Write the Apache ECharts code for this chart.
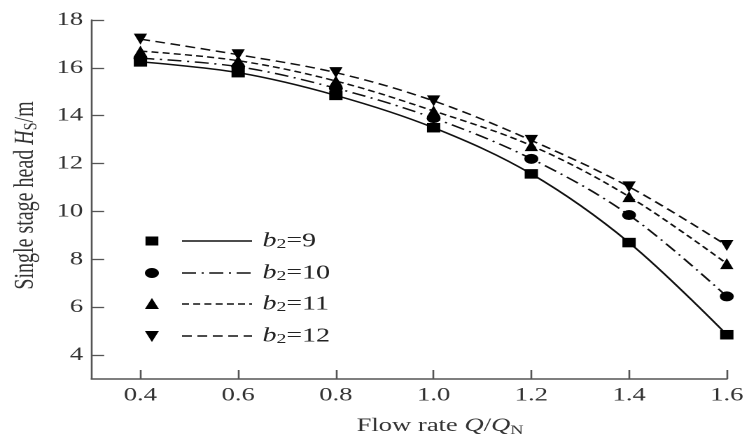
<!DOCTYPE html>
<html><head><meta charset="utf-8">
<script src="https://cdn.jsdelivr.net/npm/echarts@6/dist/echarts.min.js"></script>
<style>
html,body{margin:0;padding:0;background:#fff;overflow:hidden}
#wrap{width:748px;height:442px;overflow:hidden}
/* the reference figure is stretched horizontally by about 1.4x */
#c{width:534px;height:442px;transform:scaleX(1.4);transform-origin:0 0}
</style>
</head><body><div id="wrap"><div id="c"></div></div>
<script>
const flowRates = [0.4, 0.6, 0.8, 1.0, 1.2, 1.4, 1.6];
const head_b9  = [16.25, 15.8, 14.85, 13.5, 11.57, 8.7, 4.85];
const head_b10 = [16.4, 16.05, 15.15, 13.9, 12.2, 9.85, 6.45];
const head_b11 = [16.7, 16.3, 15.45, 14.2, 12.75, 10.62, 7.82];
const head_b12 = [17.2, 16.55, 15.8, 14.62, 12.97, 11.03, 8.58];
const seriesNames = ['b2=9', 'b2=10', 'b2=11', 'b2=12'];
const xTicks = [0.4, 0.6, 0.8, 1.0, 1.2, 1.4, 1.6];
const yTicks = [4, 6, 8, 10, 12, 14, 16, 18];

const serif = '"Liberation Serif", "DejaVu Serif", serif';
const pair = arr => flowRates.map((x, i) => [x, arr[i]]);
const styles = [
  {sym: 'rect', size: [9.5, 9.5], rot: 0, dash: 'solid', leg: null},
  {sym: 'circle', size: [10, 10], rot: 0, dash: [10, 4, 1.5, 4], leg: [10, 4, 1.5, 4]},
  {sym: 'triangle', size: [9.5, 11], rot: 0, dash: [5, 3], leg: [5, 3]},
  {sym: 'triangle', size: [9.5, 11], rot: 180, dash: [7, 4], leg: [7, 4]}
];
const data = [head_b9, head_b10, head_b11, head_b12];

const series = data.map((d, i) => ({
  name: seriesNames[i], type: 'line', data: pair(d), smooth: 0.35,
  symbol: styles[i].sym, symbolSize: styles[i].size, symbolRotate: styles[i].rot,
  showAllSymbol: true,
  itemStyle: {color: '#000'},
  lineStyle: {color: '#111', width: 1.5, type: styles[i].dash},
  z: 3
}));

// custom legend graphics (coordinates in the un-stretched frame)
const legendRows = [241, 273, 304, 336];
const graphic = [];
seriesNames.forEach((n, i) => {
  const y = legendRows[i];
  const mx = 108.5;
  if (i === 0) graphic.push({type: 'rect', shape: {x: mx - 4.6, y: y - 4.5, width: 9.2, height: 9}, style: {fill: '#000'}});
  if (i === 1) graphic.push({type: 'ellipse', shape: {cx: mx, cy: y, rx: 5, ry: 5}, style: {fill: '#000'}});
  if (i === 2) graphic.push({type: 'polygon', shape: {points: [[mx - 5, y + 5], [mx + 5, y + 5], [mx, y - 6]]}, style: {fill: '#000'}});
  if (i === 3) graphic.push({type: 'polygon', shape: {points: [[mx - 5, y - 5], [mx + 5, y - 5], [mx, y + 6]]}, style: {fill: '#000'}});
  graphic.push({type: 'line', shape: {x1: 130, y1: y, x2: 180, y2: y},
    style: {stroke: '#111', lineWidth: 1.5, lineDash: styles[i].leg}});
  const num = n.split('=')[1];
  graphic.push({type: 'text', x: 187.5, y: y, style: {
    text: '{i|b}{s|2}{n|=' + num + '}', verticalAlign: 'middle',
    rich: {
      i: {fontFamily: serif, fontStyle: 'italic', fontSize: 20, fill: '#222'},
      s: {fontFamily: serif, fontSize: 14, fill: '#222', padding: [7, 0, 0, 0]},
      n: {fontFamily: serif, fontSize: 20, fill: '#222'}
    }}});
});

const chart = echarts.init(document.getElementById('c'), null, {renderer: 'canvas', devicePixelRatio: 2});
chart.setOption({
  animation: false,
  backgroundColor: '#fff',
  grid: {left: 63.6, right: 14.3, top: 20, bottom: 56},
  xAxis: {
    type: 'value', min: 0.3, max: 1.6,
    axisLine: {show: true, lineStyle: {color: '#555', width: 1.5}},
    axisTick: {show: true, inside: true, length: 9, customValues: xTicks, lineStyle: {color: '#555', width: 1.3}},
    axisLabel: {customValues: xTicks, formatter: v => v.toFixed(1), fontFamily: serif, fontSize: 19, color: '#333', margin: 7},
    splitLine: {show: false},
    name: '{t|Flow rate }{i|Q}{t|/}{i|Q}{s|N}', nameLocation: 'middle', nameGap: 36,
    nameTextStyle: {padding: [0, 0, 0, 44], rich: {
      t: {fontFamily: serif, fontSize: 19, color: '#333'},
      i: {fontFamily: serif, fontSize: 19, fontStyle: 'italic', color: '#333'},
      s: {fontFamily: serif, fontSize: 13, color: '#333', padding: [9, 0, 0, 0]}
    }}
  },
  yAxis: {
    type: 'value', min: 3, max: 18,
    axisLine: {show: true, lineStyle: {color: '#555', width: 1.3}},
    axisTick: {show: true, inside: true, length: 9, customValues: yTicks, lineStyle: {color: '#555', width: 1.3}},
    axisLabel: {customValues: yTicks, fontFamily: serif, fontSize: 19, color: '#333', margin: 6},
    splitLine: {show: false},
    name: '{t|Single stage head }{i|H}{s|S}{t|/m}', nameLocation: 'middle', nameGap: 33, nameRotate: 90,
    nameTextStyle: {padding: [0, 0, 0, 8], rich: {
      t: {fontFamily: serif, fontSize: 20, color: '#333'},
      i: {fontFamily: serif, fontSize: 20, fontStyle: 'italic', color: '#333'},
      s: {fontFamily: serif, fontSize: 14, color: '#333', padding: [9, 0, 0, 0]}
    }}
  },
  series: series,
  graphic: graphic
});
</script></body></html>
